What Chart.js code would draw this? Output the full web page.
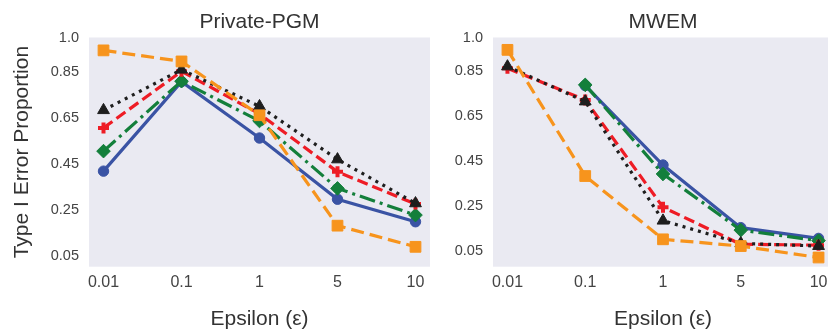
<!DOCTYPE html>
<html>
<head>
<meta charset="utf-8">
<script src="https://cdn.jsdelivr.net/npm/chart.js@4"></script>
<style>
  html, body { margin: 0; padding: 0; background: #fff; overflow: hidden; width: 828px; height: 333px; }
  canvas { position: absolute; top: 0; }
  #pgm { left: 0; }
  #mwem { left: 410px; }
</style>
</head>
<body>
<canvas id="pgm" width="440" height="333"></canvas>
<canvas id="mwem" width="440" height="333"></canvas>
<script>
// x categories (epsilon values) and y tick labels
const epsilons = ['0.01', '0.1', '1', '5', '10'];
const yTicks = [0.05, 0.25, 0.45, 0.65, 0.85, 1.0];
const yTickLabels = ['0.05', '0.25', '0.45', '0.65', '0.85', '1.0'];

// Private-PGM values
const pgmBlue = [0.419, 0.808, 0.563, 0.297, 0.199];
const pgmGreen = [0.506, 0.81, 0.637, 0.344, 0.228];
const pgmRed = [0.607, 0.853, 0.668, 0.416, 0.276];
const pgmBlack = [0.684, 0.86, 0.701, 0.47, 0.279];
const pgmOrange = [0.944, 0.896, 0.662, 0.182, 0.09];

// MWEM values
const mwemBlue = [null, 0.786, 0.432, 0.153, 0.105];
const mwemGreen = [null, 0.789, 0.392, 0.142, 0.095];
const mwemRed = [0.863, 0.722, 0.244, 0.079, 0.075];
const mwemBlack = [0.871, 0.715, 0.184, 0.083, 0.071];
const mwemOrange = [0.945, 0.383, 0.101, 0.071, 0.02];

const font = "'Liberation Sans', Arial, sans-serif";

function series(values, color, style, radius, dash, order, bw) {
    return {
        data: values.map((v, i) => ({ x: i, y: v })),
        borderColor: color,
        backgroundColor: color,
        pointBackgroundColor: color,
        pointBorderColor: color,
        pointStyle: style,
        pointRadius: radius,
        pointBorderWidth: bw || 1,
        borderWidth: 3.2,
        borderDash: dash,
        order: order,
        tension: 0,
        fill: false
    };
}

// plot background + panel title centred on plot area
const panelPlugin = {
    id: 'panel',
    beforeDraw(chart, args, opts) {
        const a = chart.chartArea;
        const ctx = chart.ctx;
        ctx.save();
        ctx.fillStyle = '#EAEAF2';
        ctx.fillRect(a.left, a.top, a.right - a.left, a.bottom - a.top);
        ctx.restore();
    },
    afterDraw(chart, args, opts) {
        const a = chart.chartArea;
        const ctx = chart.ctx;
        ctx.save();
        ctx.fillStyle = '#333';
        ctx.font = '21px ' + font;
        ctx.textAlign = 'center';
        ctx.textBaseline = 'middle';
        ctx.fillText(opts.text, (a.left + a.right) / 2, 22);
        ctx.restore();
    }
};

function makeChart(id, title, sets, yMin, yAxisWidth, padRight, showYTitle) {
    return new Chart(document.getElementById(id), {
        type: 'line',
        data: {
            datasets: [
                series(sets[0], '#3A53A4', 'circle', 5.2, [], 5),
                series(sets[1], '#137F3B', 'rectRot', 6.8, [16, 5, 3, 5], 4),
                series(sets[2], '#EE1C25', 'cross', 5.5, [11, 5], 3, 4),
                series(sets[3], '#1E1E1E', 'triangle', 6.8, [3, 5], 2),
                series(sets[4], '#F7941D', 'rect', 7.6, [13, 6], 1)
            ]
        },
        options: {
            responsive: false,
            animation: false,
            layout: { padding: { top: 37.5, right: padRight, left: 0, bottom: 0 } },
            plugins: {
                legend: { display: false },
                tooltip: { enabled: false },
                panel: { text: title }
            },
            scales: {
                x: {
                    type: 'linear',
                    min: -0.186,
                    max: 4.186,
                    grid: { display: false, drawTicks: false },
                    border: { display: false },
                    afterBuildTicks: (scale) => {
                        scale.ticks = epsilons.map((e, i) => ({ value: i }));
                    },
                    afterFit: (scale) => { scale.height = 66.3; },
                    ticks: {
                        autoSkip: false,
                        maxRotation: 0,
                        padding: 6,
                        color: '#444',
                        font: { family: font, size: 16 },
                        callback: (v) => epsilons[v]
                    },
                    title: {
                        display: true,
                        text: 'Epsilon (ε)',
                        color: '#333',
                        font: { family: font, size: 21, lineHeight: 1.2 },
                        padding: { top: 0, bottom: 1.4 }
                    }
                },
                y: {
                    min: yMin,
                    max: 1.0,
                    grid: { display: false, drawTicks: false },
                    border: { display: false },
                    afterBuildTicks: (scale) => {
                        scale.ticks = yTicks.map(v => ({ value: v }));
                    },
                    afterFit: (scale) => { scale.width = yAxisWidth; },
                    ticks: {
                        padding: 10,
                        color: '#444',
                        font: { family: font, size: 14.5 },
                        callback: (v) => yTickLabels[yTicks.indexOf(v)]
                    },
                    title: {
                        display: showYTitle,
                        text: 'Type I Error Proportion',
                        color: '#333',
                        font: { family: font, size: 21, lineHeight: 1.2 },
                        padding: { top: 10, bottom: 0 }
                    }
                }
            }
        },
        plugins: [panelPlugin]
    });
}

makeChart('pgm', 'Private-PGM', [pgmBlue, pgmGreen, pgmRed, pgmBlack, pgmOrange], 0.0036, 89, 10, true);
makeChart('mwem', 'MWEM', [mwemBlue, mwemGreen, mwemRed, mwemBlack, mwemOrange], -0.021, 83, 17, false);
</script>
</body>
</html>
